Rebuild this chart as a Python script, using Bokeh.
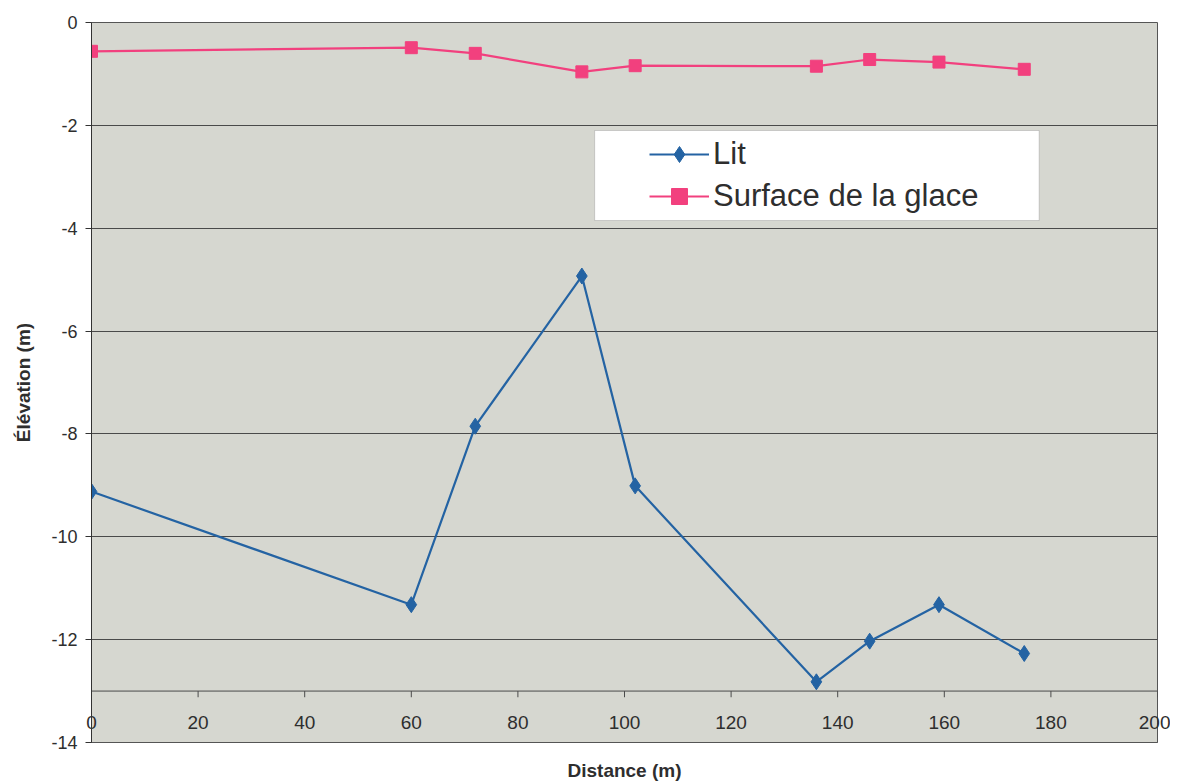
from bokeh.plotting import figure
from bokeh.models import (Span, Legend, LegendItem, FixedTicker, ColumnDataSource,
                          BoxAnnotation, PrintfTickFormatter)
from bokeh.embed import file_html
from bokeh.resources import INLINE

# Data
distance = [0, 60, 72, 92, 102, 136, 146, 159, 175]
lit = [-9.12, -11.32, -7.85, -4.93, -9.01, -12.82, -12.03, -11.32, -12.27]
surface = [-0.56, -0.49, -0.60, -0.96, -0.84, -0.85, -0.72, -0.77, -0.91]
x_ticks = [0, 20, 40, 60, 80, 100, 120, 140, 160, 180, 200]
y_ticks = [0, -2, -4, -6, -8, -10, -12, -14]

FONT = "Liberation Sans"
BLUE = "#2463a3"
PINK = "#f2407e"
TXT = "#2e2e2e"

p = figure(width=1170, height=783, output_backend="svg", toolbar_location=None,
           x_range=(0, 200), y_range=(-14, 0),
           min_border_left=91, min_border_right=13, min_border_top=22, min_border_bottom=41)
p.background_fill_color = "#d6d7d0"
p.border_fill_color = "white"
p.outline_line_color = "#555555"
p.outline_line_width = 1

p.xgrid.visible = False
p.ygrid.grid_line_color = "#4a4a4a"
p.ygrid.grid_line_width = 1
p.yaxis.ticker = FixedTicker(ticks=y_ticks)
p.yaxis.formatter = PrintfTickFormatter(format="%d")
p.yaxis.major_label_text_font = FONT
p.yaxis.major_label_text_font_size = "18px"
p.yaxis.major_label_text_color = TXT
p.yaxis.axis_line_color = "#333333"
p.yaxis.major_tick_line_color = "#333333"
p.yaxis.major_tick_out = 6
p.yaxis.major_tick_in = 0
p.yaxis.minor_tick_line_color = None
p.yaxis.major_label_standoff = 8
p.yaxis.axis_label = "Élévation (m)"
p.yaxis.axis_label_text_font = FONT
p.yaxis.axis_label_text_font_style = "bold"
p.yaxis.axis_label_text_font_size = "19px"
p.yaxis.axis_label_text_color = TXT
p.yaxis.axis_label_standoff = 14

# x axis: labels drawn inside the frame, between -13 and -14
p.xaxis.ticker = FixedTicker(ticks=x_ticks)
p.xaxis.major_label_text_font = FONT
p.xaxis.major_label_text_font_size = "19px"
p.xaxis.major_label_text_color = TXT
p.xaxis.major_label_standoff = -33
p.xaxis.major_tick_line_color = None
p.xaxis.minor_tick_line_color = None
p.xaxis.axis_line_color = "#555555"
p.xaxis.axis_label = "Distance (m)"
p.xaxis.axis_label_text_font = FONT
p.xaxis.axis_label_text_font_style = "bold"
p.xaxis.axis_label_text_font_size = "19px"
p.xaxis.axis_label_text_color = TXT
p.xaxis.axis_label_standoff = 28

# x axis line crossing at -13, with its tick marks
p.add_layout(Span(location=-13, dimension="width", line_color="#4a4a4a", line_width=1))
tick_src = ColumnDataSource(dict(x=x_ticks))
p.segment(x0="x", x1="x", y0=-13, y1=-13.12, source=tick_src, line_color="#4a4a4a", line_width=1)

src = ColumnDataSource(dict(d=distance, lit=lit, surf=surface))
l1 = p.line("d", "lit", source=src, line_color=BLUE, line_width=2.2)
m1 = p.scatter("d", "lit", source=src, marker="diamond", size=16, fill_color=BLUE, line_color=BLUE)
l2 = p.line("d", "surf", source=src, line_color=PINK, line_width=2.2)
m2 = p.scatter("d", "surf", source=src, marker="square", size=12, fill_color=PINK, line_color=PINK)

# legend box (white) behind a transparent legend
p.add_layout(BoxAnnotation(left=94.4, right=177.8, top=-2.1, bottom=-3.85,
                           fill_color="white", fill_alpha=1, line_color="#777777", line_width=1))
legend = Legend(items=[LegendItem(label="Lit", renderers=[l1, m1]),
                       LegendItem(label="Surface de la glace", renderers=[l2, m2])],
                location=(558, 526), label_text_font=FONT, label_text_font_size="31px",
                label_text_color=TXT, glyph_width=60, glyph_height=40, label_standoff=4,
                spacing=2, padding=0, margin=0,
                border_line_color=None, background_fill_alpha=0)
p.add_layout(legend, "center")

open("out.html", "w").write(file_html(p, INLINE))
